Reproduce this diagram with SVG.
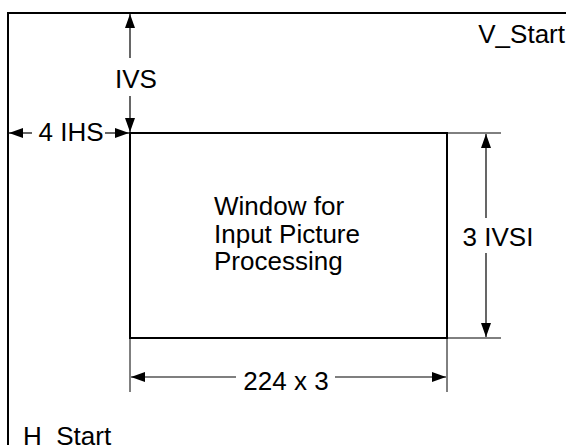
<svg xmlns="http://www.w3.org/2000/svg" width="567" height="445" viewBox="0 0 567 445">
<style>
.t{font-family:"Liberation Sans",Arial,sans-serif;font-size:26px;fill:#000}
.thick{stroke:#000;stroke-width:2;fill:none}
.thin{stroke:#000;stroke-width:1;fill:none}
.dim{stroke:#000;stroke-width:1.2;fill:none;marker-end:url(#ah)}
</style>
<defs>
<marker id="ah" markerWidth="14" markerHeight="10" refX="14" refY="5" orient="auto" markerUnits="userSpaceOnUse">
<path d="M0,0 L14,5 L0,10 Z" fill="#000"/>
</marker>
</defs>
<rect width="567" height="445" fill="#fff"/>
<g id="frame">
<path class="thick" d="M8,445 V13 H566"/>
<text class="t" x="565" y="43" text-anchor="end">V_Start</text>
<text class="t" x="23" y="445">H_Start</text>
</g>
<g id="window">
<rect class="thick" x="130" y="133" width="317" height="205"/>
<text class="t" x="214" y="215">Window for</text>
<text class="t" x="214" y="243">Input Picture</text>
<text class="t" x="214" y="270">Processing</text>
</g>
<g id="connectors">
<line class="dim" x1="130" y1="58" x2="130" y2="14"/>
<line class="dim" x1="130" y1="96" x2="130" y2="132"/>
<line class="dim" x1="32" y1="133" x2="9" y2="133"/>
<line class="dim" x1="105" y1="133" x2="129" y2="133"/>
<line class="thin" x1="447" y1="133" x2="501" y2="133"/>
<line class="thin" x1="447" y1="338" x2="501" y2="338"/>
<line class="dim" x1="486" y1="218" x2="486" y2="134"/>
<line class="dim" x1="486" y1="253" x2="486" y2="337"/>
<line class="thin" x1="130" y1="338" x2="130" y2="392"/>
<line class="thin" x1="447" y1="338" x2="447" y2="392"/>
<line class="dim" x1="236" y1="377" x2="131" y2="377"/>
<line class="dim" x1="335" y1="377" x2="446" y2="377"/>
</g>
<g id="labels">
<text class="t" x="136" y="88" text-anchor="middle">IVS</text>
<text class="t" x="71" y="141" text-anchor="middle">4 IHS</text>
<text class="t" x="498" y="246" text-anchor="middle">3 IVSI</text>
<text class="t" x="286" y="390" text-anchor="middle">224 x 3</text>
</g>
</svg>
